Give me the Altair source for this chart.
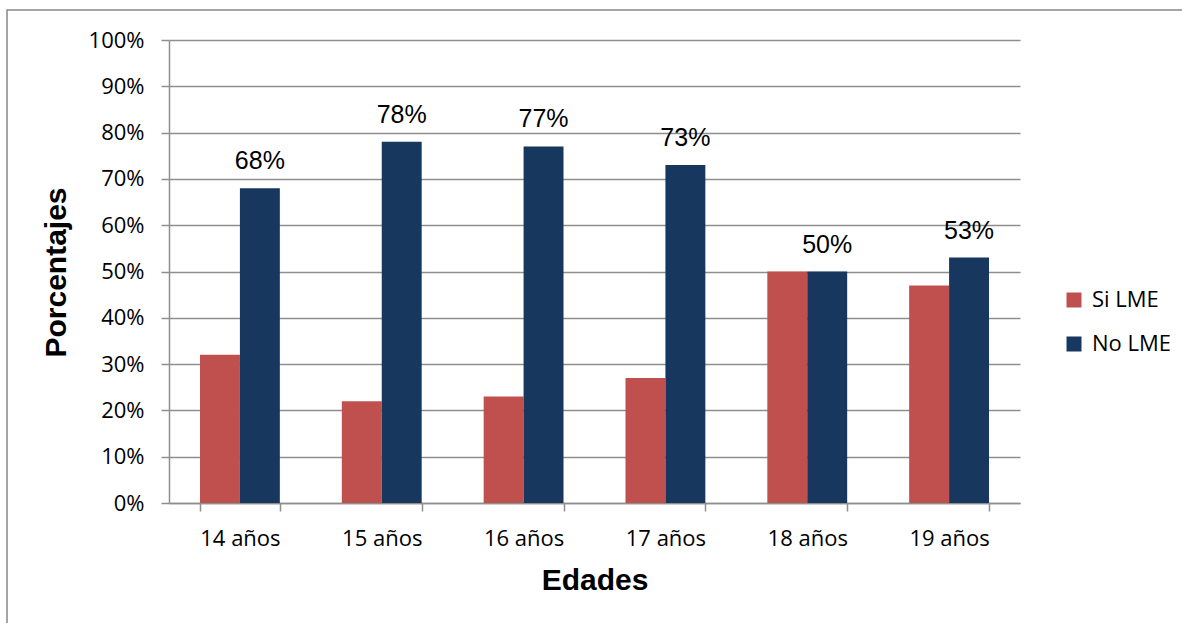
import altair as alt
import pandas as pd

edades = ["14 años", "15 años", "16 años", "17 años", "18 años", "19 años"]
si_lme = [32, 22, 23, 27, 50, 47]
no_lme = [68, 78, 77, 73, 50, 53]
series = ["Si LME", "No LME"]
colors = ["#C0504D", "#17375E"]

rows = []
for e, s, n in zip(edades, si_lme, no_lme):
    rows.append({"Edad": e, "Serie": "Si LME", "Valor": s / 100})
    rows.append({"Edad": e, "Serie": "No LME", "Valor": n / 100})
df = pd.DataFrame(rows)

W, H = 851, 463
grid = "#8E8E8E"

x_enc = alt.X(
    "Edad:N", sort=edades,
    scale=alt.Scale(paddingInner=0.437, paddingOuter=0.2185),
    axis=alt.Axis(
        title="Edades", tickBand="extent", grid=False,
        domainColor=grid, domainWidth=1.5, tickColor=grid, tickWidth=1.5, tickSize=8,
        labelFont="Open Sans", labelFontSize=22, labelColor="#000000", labelPadding=17,
        labelAngle=0,
        titleFont="Liberation Sans", titleFontSize=30, titleFontWeight="bold", titleColor="#000000",
        titleBaseline="alphabetic", titleY=86,
    ),
)

y_enc = alt.Y(
    "Valor:Q", scale=alt.Scale(domain=[0, 1]),
    axis=alt.Axis(
        title="Porcentajes", format=".0%", values=[i / 10 for i in range(11)],
        grid=True, gridColor=grid, gridWidth=1.5,
        domainColor=grid, domainWidth=1.5, tickColor=grid, tickWidth=1.5, tickSize=8,
        labelFont="Open Sans", labelFontSize=22, labelColor="#000000", labelPadding=17,
        titleFont="Liberation Sans", titleFontSize=30, titleFontWeight="bold", titleColor="#000000",
        titleAngle=-90, titleBaseline="alphabetic", titleAlign="center",
        titleX=-104, titleY=232,
    ),
)

bars = alt.Chart(df).mark_bar().encode(
    x=x_enc,
    xOffset=alt.XOffset("Serie:N", sort=series),
    y=y_enc,
    color=alt.Color(
        "Serie:N", sort=series,
        scale=alt.Scale(domain=series, range=colors),
        legend=alt.Legend(
            title=None, orient="none", legendX=894, legendY=249,
            symbolType="square", symbolSize=225, symbolStrokeWidth=0,
            labelFont="Open Sans", labelFontSize=22, labelColor="#000000",
            labelOffset=7, rowPadding=22, padding=0,
        ),
    ),
)

labels = alt.Chart(df).transform_filter(alt.datum.Serie == "No LME").mark_text(
    font="Liberation Sans", fontSize=25, color="#000000", baseline="alphabetic", dy=-19
).encode(
    x=alt.X("Edad:N", sort=edades),
    xOffset=alt.XOffset("Serie:N", sort=series),
    y="Valor:Q",
    text=alt.Text("Valor:Q", format=".0%"),
)

border = alt.Chart(pd.DataFrame({"a": [0]})).mark_rect(
    fill=None, stroke="#888888", strokeWidth=1.5
).encode(
    x=alt.value(-162), x2=alt.value(1030), y=alt.value(-30), y2=alt.value(700)
)

chart = alt.layer(border, bars, labels).properties(
    width=W, height=H,
    background="#FFFFFF",
    autosize=alt.AutoSizeParams(type="none"),
    padding={"left": 169, "top": 40, "right": 162, "bottom": 120},
).configure_view(strokeWidth=0, stroke="transparent")

chart.save("out.html", embed_options={"renderer": "svg", "actions": False})
